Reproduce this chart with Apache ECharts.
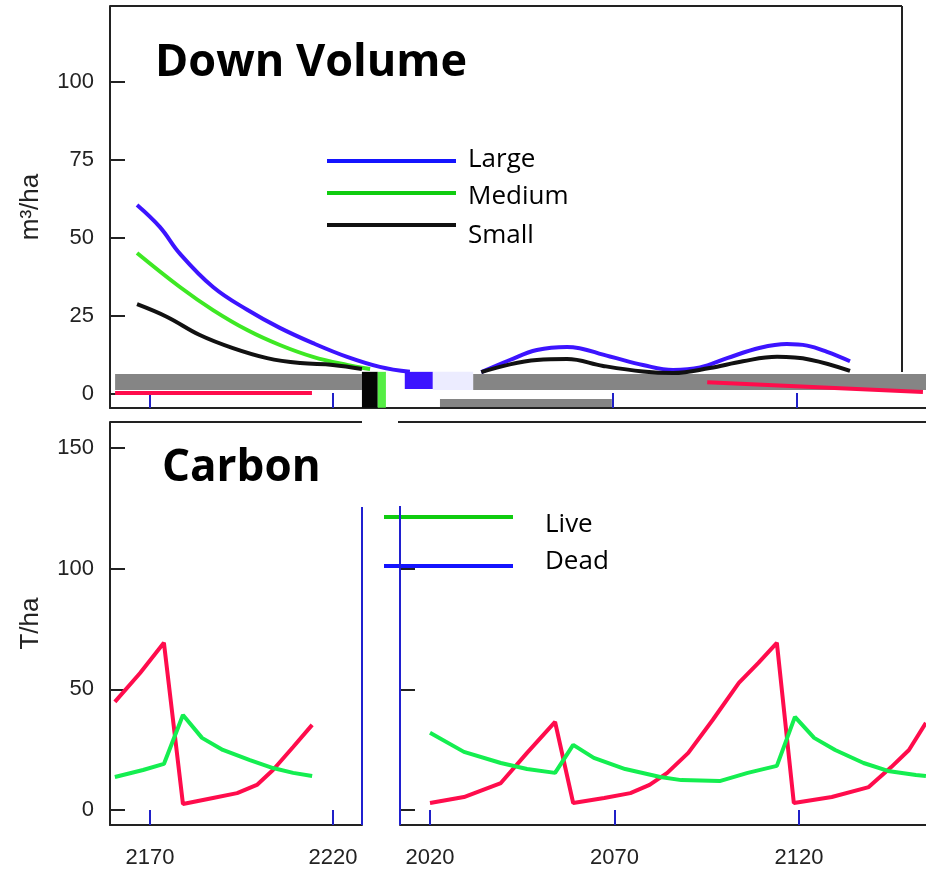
<!DOCTYPE html>
<html>
<head>
<meta charset="utf-8">
<script src="https://cdn.jsdelivr.net/npm/echarts@6/dist/echarts.min.js"></script>
<style>
html, body { margin: 0; padding: 0; background: #fff; }
#chart { width: 926px; height: 878px; }
</style>
</head>
<body>
<div id="chart"></div>
<script>
// Down Volume (m3/ha), [year, value]
const largeVol = [[2005.3,60.6],[2009.8,53.5],[2013.7,45.0],[2020.2,34.3],[2026.9,27.0],[2033.3,21.2],[2039.8,16.3],[2046.5,11.9],[2052.9,8.7],[2058.8,7.1],[2065,null],
  [2072.8,7.0],[2078.4,10.9],[2083.7,14.1],[2089.6,15.1],[2098.0,12.0],[2104.5,9.3],[2110.4,7.7],[2115.7,8.5],[2121.0,11.5],[2127.5,14.8],[2132.7,16.0],[2136.7,15.5],[2140.6,13.5],[2145.1,10.5]];
const mediumVol = [[2005.3,45.2],[2013.7,34.3],[2020.2,26.9],[2026.9,20.5],[2033.3,15.7],[2039.8,11.9],[2046.5,9.3],[2051.0,8.0]];
const smallVol = [[2005.3,28.8],[2011.2,24.7],[2017.6,18.9],[2024.1,14.7],[2030.8,11.5],[2037.3,9.9],[2043.7,9.3],[2049.4,8.0],[2060,null],
  [2072.8,7.0],[2078.4,9.5],[2083.7,10.9],[2089.6,11.2],[2096.7,9.0],[2104.5,7.2],[2110.4,6.7],[2117.6,8.3],[2124.1,10.5],[2130.8,11.9],[2137.3,11.0],[2145.1,7.4]];
const fineVol = [[2001.0,0.3],[2039.6,0.3],[2080,null],[2117.1,3.8],[2159.4,0.6]];
const topTickYears = [2007.8, 2043.7, 2098.6, 2134.7];
// smeared blocks over the lower part of the volume panel: [year0, year1, value0, value1]
const smearBlocks = [[2001.0,2049.4,1.3,6.4],[2071.2,2160,1.3,6.4],[2064.7,2098.4,-4.2,-1.6],
  [2049.4,2052.5,-4.4,7.1],[2052.5,2054.1,-4.4,7.1],[2057.8,2063.3,1.6,7.1],[2063.3,2071.2,1.3,7.1]];
const volTicks = [0, 25, 50, 75, 100];

// Carbon (T/ha), left panel (later years) and right panel
const liveLeft = [[2160.4,44.8],[2167.3,56.8],[2173.8,69.3],[2179.0,2.5],[2187.2,5.0],[2193.8,7.0],[2199.2,10.4],[2203.6,16.6],[2209.1,26.1],[2214.3,35.3]];
const deadLeft = [[2160.4,13.7],[2168.1,16.6],[2173.8,19.1],[2179.0,39.4],[2184.2,29.9],[2189.9,24.9],[2197.3,20.7],[2203.6,17.4],[2209.1,15.4],[2214.3,14.1]];
const liveRight = [[2020.0,2.9],[2029.2,5.4],[2039.2,11.2],[2046.3,23.7],[2053.9,36.5],[2058.8,2.9],[2067.2,5.0],[2074.3,7.0],[2079.5,10.4],[2084.3,15.4],
  [2090.0,23.7],[2096.6,37.3],[2103.7,52.7],[2109.0,61.0],[2114.0,69.3],[2118.6,2.9],[2128.9,5.4],[2138.9,9.5],[2145.0,17.8],[2149.8,24.9],[2154.4,36.1]];
const deadRight = [[2020.0,32.0],[2029.2,24.1],[2039.2,19.5],[2046.3,17.0],[2053.9,15.4],[2058.8,27.0],[2064.4,21.6],[2072.9,17.0],[2082.4,13.7],[2088.1,12.4],
  [2098.5,12.0],[2106.1,15.4],[2114.0,18.3],[2118.9,38.6],[2124.1,29.9],[2129.8,24.9],[2137.5,19.5],[2144.1,16.2],[2151.7,14.5],[2154.4,14.1]];
const carbonTicks = [0, 50, 100, 150];
const rightCarbonTicks = [0, 50, 100];
const leftYearTicks = [2170, 2220];
const rightYearTicks = [2020, 2070, 2120];

const AX_FONT = '"Liberation Sans", Arial, sans-serif';
const TXT_FONT = '"Open Sans", "Noto Sans", sans-serif';
const BLUE = '#3c14ff', GREEN = '#3ee824', BLACK = '#111', RED = '#ff0c4c', CGREEN = '#14ee50';
const smearColors = ['#858585', '#858585', '#858585', '#050505', '#55ee44', BLUE, '#ececff'];

let myChart = echarts.init(document.getElementById('chart'));

function yAxisOf(gridIndex, min, max, ticks, showLabels, name) {
  return {
    type: 'value', gridIndex: gridIndex, min: min, max: max,
    name: name || '', nameLocation: 'middle', nameGap: 66,
    nameTextStyle: { fontFamily: AX_FONT, fontSize: 26, color: '#222' },
    splitLine: { show: false },
    axisLine: { show: gridIndex !== 2, lineStyle: { color: '#222', width: 2 } },
    axisTick: { show: true, inside: true, length: 15, customValues: ticks, lineStyle: { color: '#222', width: 2 } },
    axisLabel: { show: showLabels, customValues: ticks, margin: 16, fontFamily: AX_FONT, fontSize: 22, color: '#222' }
  };
}

function xAxisOf(gridIndex, min, max, ticks, showLabels) {
  return {
    type: 'value', gridIndex: gridIndex, min: min, max: max,
    splitLine: { show: false },
    axisLine: { show: true, onZero: false, lineStyle: { color: '#222', width: 2 } },
    axisTick: { show: true, inside: true, length: 15, customValues: ticks, lineStyle: { color: '#2020c8', width: 2 } },
    axisLabel: {
      show: showLabels, customValues: ticks, margin: 22,
      fontFamily: AX_FONT, fontSize: 22, color: '#222',
      formatter: v => String(v)
    }
  };
}

function line(name, data, color, xi, smooth) {
  return {
    name: name, type: 'line', data: data, xAxisIndex: xi, yAxisIndex: xi,
    symbol: 'none', smooth: smooth, connectNulls: false, z: 3,
    lineStyle: { color: color, width: 4 }, itemStyle: { color: color }
  };
}

// legend keys only; their labels are placed as text below
function keyLegend(items, left, top, gap) {
  return {
    orient: 'vertical', left: left, top: top, padding: 0, itemGap: gap,
    icon: 'rect', itemWidth: 129, itemHeight: 4, selectedMode: false,
    data: items.map(it => ({ name: it[0], itemStyle: { color: it[1] } })),
    formatter: () => '',
    textStyle: { fontSize: 4, lineHeight: 4 }
  };
}

function label(text, x, y) {
  return { type: 'text', style: { text: text, x: x, y: y, verticalAlign: 'middle', fontFamily: TXT_FONT, fontSize: 26, fill: '#000' }, z: 10 };
}

function frame(x1, y1, x2, y2, color) {
  return { type: 'line', shape: { x1: x1, y1: y1, x2: x2, y2: y2 }, style: { stroke: color, lineWidth: 2 }, z: 10 };
}

let option = {
  animation: false,
  backgroundColor: '#fff',
  title: [
    { text: 'Down Volume', left: 150, top: 36, textStyle: { fontFamily: TXT_FONT, fontWeight: 'bold', fontSize: 45, color: '#000' } },
    { text: 'Carbon', left: 157, top: 441, textStyle: { fontFamily: TXT_FONT, fontWeight: 'bold', fontSize: 44, color: '#000' } }
  ],
  legend: [
    keyLegend([['Large', '#1414ff'], ['Medium', '#10cc10'], ['Small', '#111']], 327, 159, 28),
    keyLegend([['Live', '#10cc10'], ['Dead', '#1414ff']], 384, 515, 45)
  ],
  grid: [
    { left: 110, top: 6, right: 0, height: 402 },
    { left: 110, top: 422, width: 252, height: 403 },
    { left: 400, top: 422, right: 0, height: 403 }
  ],
  xAxis: [
    xAxisOf(0, 2000, 2160, topTickYears, false),
    xAxisOf(1, 2159.07, 2227.92, leftYearTicks, true),
    xAxisOf(2, 2011.87, 2154.42, rightYearTicks, true)
  ],
  yAxis: [
    yAxisOf(0, -4.49, 124.36, volTicks, true, 'm³/ha'),
    yAxisOf(1, -6.2, 160.8, carbonTicks, true, 'T/ha'),
    yAxisOf(2, -6.2, 160.8, rightCarbonTicks, false)
  ],
  series: [
    {
      name: 'smear', type: 'line', data: [], xAxisIndex: 0, yAxisIndex: 0, z: 1,
      markArea: {
        silent: true,
        data: smearBlocks.map((a, i) => [
          { xAxis: a[0], yAxis: a[2], itemStyle: { color: smearColors[i] } },
          { xAxis: a[1], yAxis: a[3] }
        ])
      }
    },
    line('Large', largeVol, BLUE, 0, 0.4),
    line('Medium', mediumVol, GREEN, 0, 0.4),
    line('Small', smallVol, BLACK, 0, 0.4),
    line('Fine', fineVol, RED, 0, false),
    line('Live', liveLeft, RED, 1, false),
    line('Dead', deadLeft, CGREEN, 1, false),
    line('Live', liveRight, RED, 2, false),
    line('Dead', deadRight, CGREEN, 2, false)
  ],
  graphic: [
    frame(110, 6, 902, 6, '#222'),
    frame(902, 6, 902, 372, '#222'),
    frame(110, 422, 362, 422, '#222'),
    frame(362, 507, 362, 825, '#2020d0'),
    frame(398, 422, 926, 422, '#222'),
    frame(400, 506, 400, 825, '#2020d0'),
    label('Large', 468, 160),
    label('Medium', 468, 197),
    label('Small', 468, 236),
    label('Live', 545, 525),
    label('Dead', 545, 562)
  ]
};
myChart.setOption(option);
</script>
</body>
</html>
